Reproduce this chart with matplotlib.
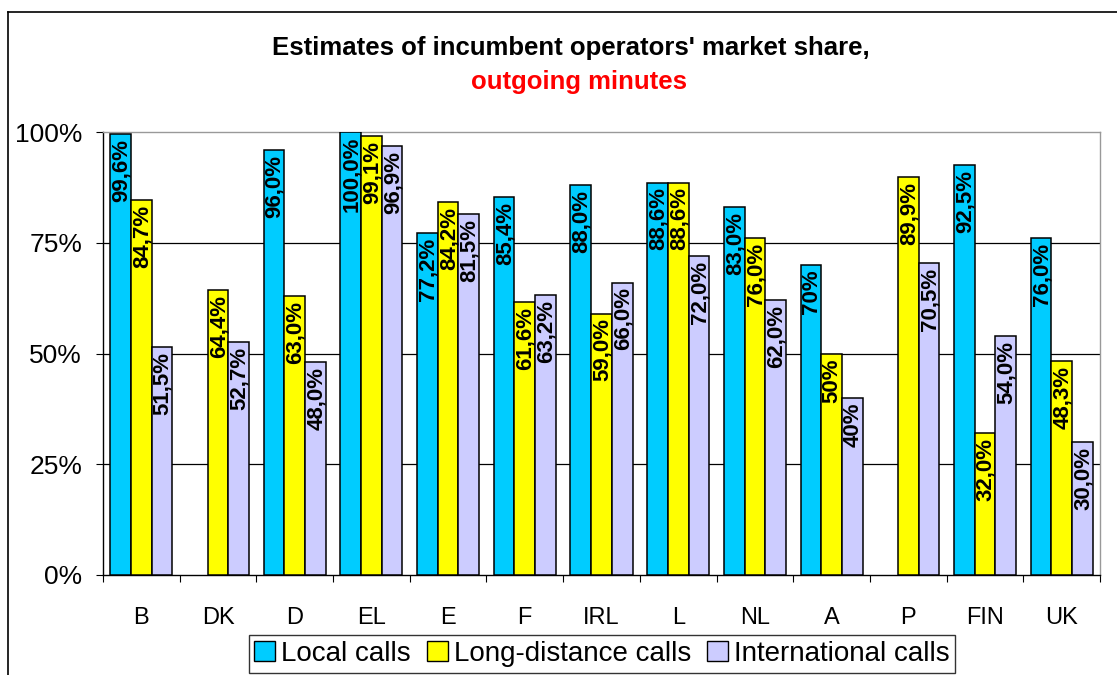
import numpy as np
import matplotlib
matplotlib.use("Agg")
import matplotlib.pyplot as plt
from matplotlib.lines import Line2D
from matplotlib.patches import Patch

plt.rcParams["font.family"] = ["Liberation Sans", "DejaVu Sans"]

# data
countries = ["B", "DK", "D", "EL", "E", "F", "IRL", "L", "NL", "A", "P", "FIN", "UK"]
local_calls = [99.6, np.nan, 96.0, 100.0, 77.2, 85.4, 88.0, 88.6, 83.0, 70, np.nan, 92.5, 76.0]
long_distance = [84.7, 64.4, 63.0, 99.1, 84.2, 61.6, 59.0, 88.6, 76.0, 50, 89.9, 32.0, 48.3]
international = [51.5, 52.7, 48.0, 96.9, 81.5, 63.2, 66.0, 72.0, 62.0, 40, 70.5, 54.0, 30.0]
label_decimals = [1, 1, 1, 1, 1, 1, 1, 1, 1, 0, 1, 1, 1]

series_names = ["Local calls", "Long-distance calls", "International calls"]
series_colors = ["#00CCFF", "#FFFF00", "#CCCCFF"]
y_ticks = [0, 25, 50, 75, 100]
y_tick_labels = ["0%", "25%", "50%", "75%", "100%"]

W, H = 1117, 675
fig = plt.figure(figsize=(W / 100, H / 100), dpi=100)
ax = fig.add_axes([103 / W, 1 - 575 / H, (1100 - 103) / W, (575 - 132) / H])

x = np.arange(len(countries))
bar_w = 0.27
all_series = [local_calls, long_distance, international]

for i, (vals, color) in enumerate(zip(all_series, series_colors)):
    pos = x + (i - 1) * bar_w
    ax.bar(pos, vals, width=bar_w, color=color, edgecolor="black", linewidth=1.1, zorder=3)
    for p, v, d in zip(pos, vals, label_decimals):
        if np.isnan(v):
            continue
        txt = f"{v:.{d}f}%".replace(".", ",")
        ax.annotate(txt, (p, v), xytext=(0.5, -3.5), textcoords="offset points",
                    rotation=90, ha="center", va="top", fontsize=16,
                    fontweight="bold", zorder=4)

ax.set_xlim(-0.5, len(countries) - 0.5)
ax.set_ylim(0, 100)

ax.set_yticks(y_ticks)
ax.set_yticklabels(y_tick_labels, fontsize=19)
ax.tick_params(axis="y", direction="out", length=5, width=0.8, pad=10)

ax.set_xticks(x)
ax.set_xticklabels(countries, fontsize=17)
ax.tick_params(axis="x", which="major", length=0, pad=23)
ax.set_xticks(np.arange(len(countries) + 1) - 0.5, minor=True)
ax.tick_params(axis="x", which="minor", direction="out", length=5, width=0.8)

for yv in y_ticks[1:-1]:
    ax.axhline(yv, color="black", linewidth=0.9, zorder=1)

ax.spines["left"].set_color("black")
ax.spines["bottom"].set_color("black")
ax.spines["top"].set_color("#999999")
ax.spines["right"].set_color("#999999")
for s in ax.spines.values():
    s.set_linewidth(1.0)

fig.text(571 / W, 1 - 48 / H, "Estimates of incumbent operators' market share,",
         ha="center", va="center", fontsize=18.5, fontweight="bold")
fig.text(579 / W, 1 - 82 / H, "outgoing minutes",
         ha="center", va="center", fontsize=18.5, fontweight="bold", color="red")

handles = [Patch(facecolor=c, edgecolor="black", linewidth=1.0) for c in series_colors]
leg = fig.legend(handles, series_names, loc="center", bbox_to_anchor=(602 / W, 1 - 654 / H),
                 ncol=3, fontsize=20, frameon=True, fancybox=False, framealpha=1,
                 edgecolor="#333333", handlelength=0.75, handleheight=0.75,
                 handletextpad=0.2, columnspacing=0.6, borderpad=0.2, borderaxespad=0)
leg.get_frame().set_linewidth(1.0)

# outer chart frame (left and top edges visible)
fig.add_artist(Line2D([8 / W, 8 / W], [0, 1 - 12 / H], color="black", linewidth=1.2))
fig.add_artist(Line2D([8 / W, 1], [1 - 12 / H, 1 - 12 / H], color="black", linewidth=1.2))

fig.savefig("out.png", dpi=100)
